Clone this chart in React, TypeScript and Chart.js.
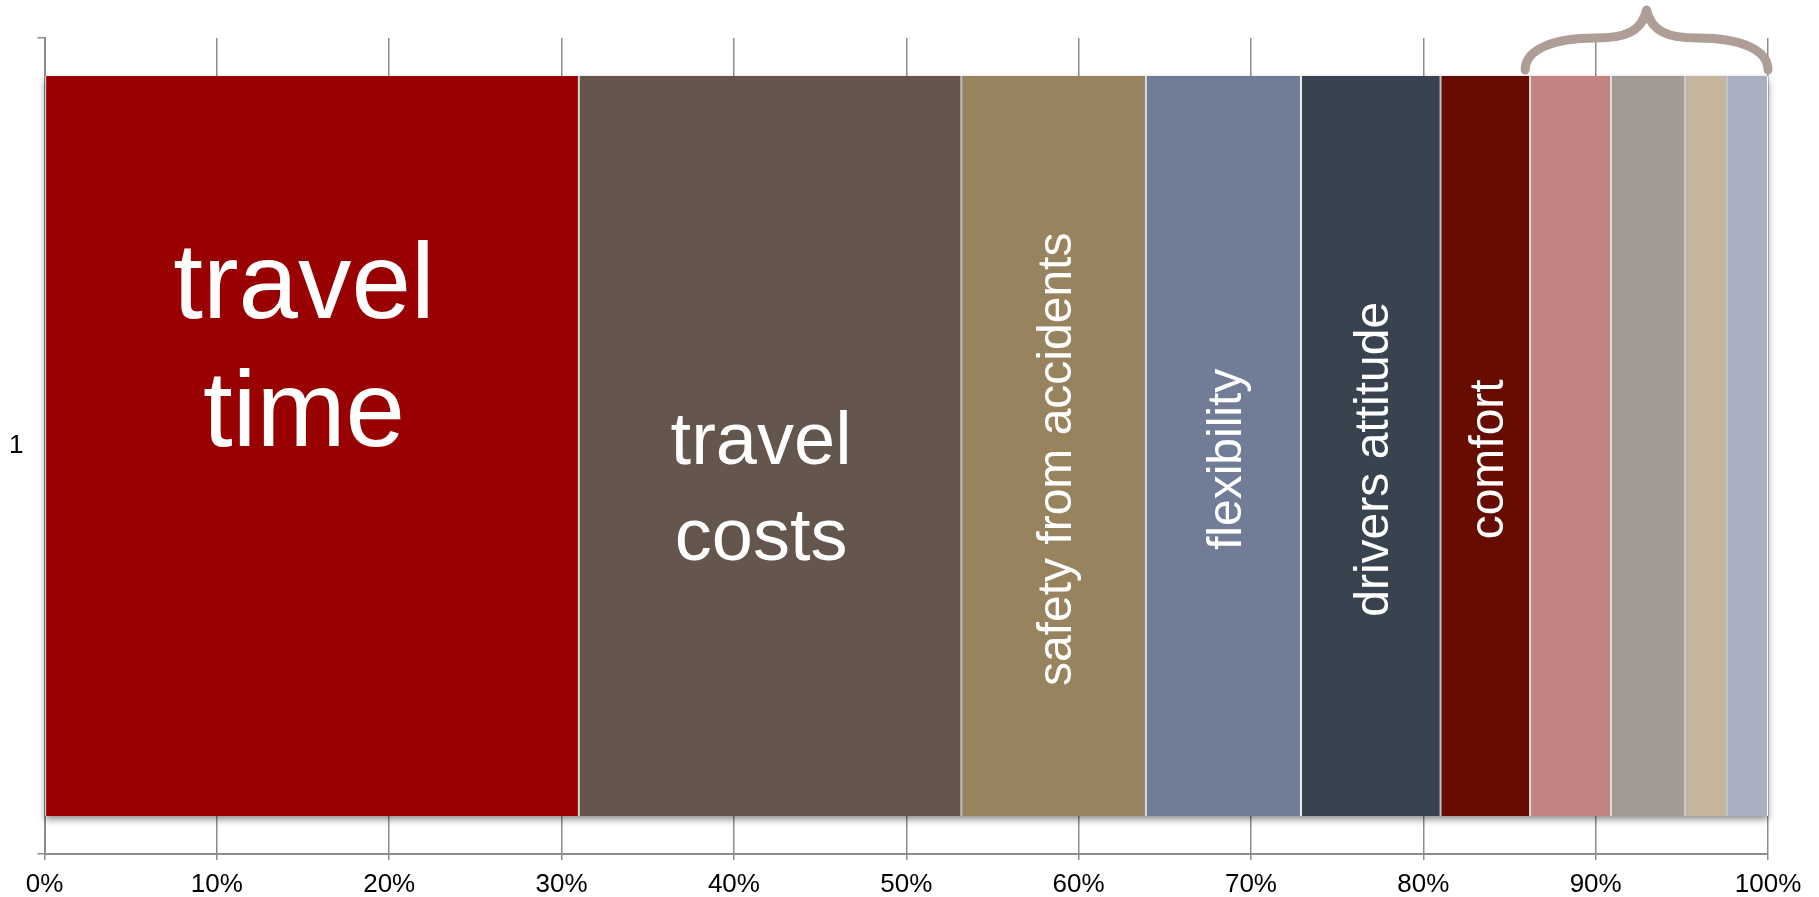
import React, { useEffect, useRef } from 'react';
import { Chart, registerables } from 'chart.js';

Chart.register(...registerables);

// ---------- data ----------
const categories = ['1'];
const factorNames = [
  'travel time',
  'travel costs',
  'safety from accidents',
  'flexibility',
  'drivers attitude',
  'comfort',
  'other factor A',
  'other factor B',
  'other factor C',
  'other factor D',
];
const factorShares = [31.0, 22.2, 10.7, 9.0, 8.1, 5.2, 4.7, 4.3, 2.4, 2.4];
const factorColors = [
  '#990000',
  '#65564d',
  '#98835f',
  '#717d96',
  '#394350',
  '#660c00',
  '#c48383',
  '#a39a94',
  '#c5b59f',
  '#a9afc3',
];
const tickValues = [0, 10, 20, 30, 40, 50, 60, 70, 80, 90, 100];
const insideLabels: string[][] = [
  ['travel', 'time'],
  ['travel', 'costs'],
  ['safety from accidents'],
  ['flexibility'],
  ['drivers attitude'],
  ['comfort'],
  [],
  [],
  [],
  [],
];
const bracedStartIndex = 6;

// ---------- styles ----------
const FONT = '"Liberation Sans", Arial, Helvetica, sans-serif';
const AXIS_GREY = '#8c8c8c';
const BRACE_COLOR = '#ae9e95';

type LabelStyle = { size: number; rotated: boolean; dx: number; baselines: number[]; centerFrac: number };
const bigStyle: LabelStyle = { size: 107, rotated: false, dx: -8, baselines: [0.327, 0.5], centerFrac: 0 };
const midStyle: LabelStyle = { size: 74, rotated: false, dx: -9, baselines: [0.524, 0.654], centerFrac: 0 };
const rotStyle: LabelStyle = { size: 48, rotated: true, dx: 0, baselines: [], centerFrac: 0.518 };
const labelStyles: LabelStyle[] = [bigStyle, midStyle, rotStyle, rotStyle, rotStyle, rotStyle, rotStyle, rotStyle, rotStyle, rotStyle];

function barBox(chart: any, i: number) {
  const el = chart.getDatasetMeta(i).data[0];
  const p = el.getProps(['x', 'y', 'base', 'height'], true);
  const left = Math.min(p.x, p.base);
  const right = Math.max(p.x, p.base);
  return { left, right, top: p.y - p.height / 2, height: p.height };
}

const shadowPlugin = {
  id: 'barShadow',
  beforeDatasetsDraw(chart: any) {
    const n = chart.data.datasets.length;
    const first = barBox(chart, 0);
    const last = barBox(chart, n - 1);
    const ctx = chart.ctx;
    ctx.save();
    ctx.shadowColor = 'rgba(0,0,0,0.45)';
    ctx.shadowBlur = 7;
    ctx.shadowOffsetY = 4;
    ctx.fillStyle = '#888';
    ctx.fillRect(first.left, first.top, last.right - first.left, first.height);
    ctx.restore();
  },
};

const segmentTextPlugin = {
  id: 'segmentText',
  afterDatasetsDraw(chart: any) {
    const ctx = chart.ctx;
    chart.data.datasets.forEach((_ds: any, i: number) => {
      const lines = insideLabels[i];
      if (!lines || !lines.length) return;
      const b = barBox(chart, i);
      const cx = (b.left + b.right) / 2;
      const st = labelStyles[i];
      ctx.save();
      ctx.fillStyle = '#ffffff';
      ctx.font = `${st.size}px ${FONT}`;
      ctx.textAlign = 'center';
      ctx.textBaseline = 'alphabetic';
      if (st.rotated) {
        const cy = b.top + b.height * st.centerFrac;
        ctx.translate(cx + st.size * 0.36, cy);
        ctx.rotate(-Math.PI / 2);
        ctx.fillText(lines[0], 0, 0);
      } else {
        lines.forEach((line, k) => {
          ctx.fillText(line, cx + st.dx, b.top + b.height * st.baselines[k]);
        });
      }
      ctx.restore();
    });
  },
};

const bracePlugin = {
  id: 'brace',
  afterDraw(chart: any) {
    const xs = chart.scales.x;
    const startVal = factorShares.slice(0, bracedStartIndex).reduce((a, b) => a + b, 0);
    const endVal = factorShares.reduce((a, b) => a + b, 0);
    const L = xs.getPixelForValue(startVal) - 5;
    const R = xs.getPixelForValue(Math.min(endVal, 100));
    const M = (L + R) / 2;
    const top = chart.chartArea.top;
    const yEnd = top + 32;
    const yMid = top;
    const yPeak = top - 28;
    const q = (R - L) / 2;
    const ctx = chart.ctx;
    ctx.save();
    ctx.strokeStyle = BRACE_COLOR;
    ctx.lineWidth = 9;
    ctx.lineCap = 'round';
    ctx.lineJoin = 'round';
    ctx.beginPath();
    ctx.moveTo(L, yEnd);
    ctx.bezierCurveTo(L, yMid + 12, L + q * 0.22, yMid, L + q * 0.58, yMid);
    ctx.bezierCurveTo(L + q * 0.82, yMid, M - 5, yMid - 6, M, yPeak);
    ctx.bezierCurveTo(M + 5, yMid - 6, R - q * 0.82, yMid, R - q * 0.58, yMid);
    ctx.bezierCurveTo(R - q * 0.22, yMid, R, yMid + 12, R, yEnd);
    ctx.stroke();
    ctx.restore();
  },
};

export default function App() {
  const canvasRef = useRef<HTMLCanvasElement | null>(null);

  useEffect(() => {
    if (!canvasRef.current) return;
    Chart.defaults.font.family = FONT;
    const datasets = factorNames.map((name, i) => ({
      label: name,
      data: [factorShares[i]],
      backgroundColor: factorColors[i],
      borderColor: '#ffffff',
      borderWidth: { left: 1, right: 1, top: 0, bottom: 0 },
      borderSkipped: false,
      barPercentage: 0.907,
      categoryPercentage: 1,
    }));
    const chart = new Chart(canvasRef.current, {
      type: 'bar',
      data: { labels: categories, datasets },
      plugins: [shadowPlugin, segmentTextPlugin, bracePlugin],
      options: {
        indexAxis: 'y',
        animation: false,
        responsive: true,
        maintainAspectRatio: false,
        devicePixelRatio: 1,
        layout: { padding: { top: 38, right: 51, left: 0, bottom: 0 } },
        plugins: {
          legend: { display: false },
          tooltip: { enabled: false },
          title: { display: false },
        },
        scales: {
          x: {
            type: 'linear',
            stacked: true,
            min: 0,
            max: 100,
            afterBuildTicks: (s: any) => {
              s.ticks = tickValues.map((v) => ({ value: v }));
            },
            afterFit: (s: any) => {
              s.height = 43;
            },
            ticks: {
              callback: (v: any) => `${v}%`,
              font: { size: 26, family: FONT },
              color: '#000000',
              padding: 9,
              maxRotation: 0,
              autoSkip: false,
            },
            grid: {
              color: AXIS_GREY,
              lineWidth: 1.5,
              tickLength: 6,
              drawOnChartArea: true,
            },
            border: { color: AXIS_GREY, width: 2 },
          },
          y: {
            type: 'category',
            stacked: true,
            afterFit: (s: any) => {
              s.width = 44.5;
            },
            ticks: {
              font: { size: 26, family: FONT },
              color: '#000000',
              padding: 14,
            },
            grid: {
              offset: true,
              drawOnChartArea: false,
              tickLength: 7,
              color: AXIS_GREY,
              lineWidth: 1.5,
            },
            border: { color: AXIS_GREY, width: 2 },
          },
        },
      } as any,
    });
    return () => chart.destroy();
  }, []);

  return (
    <div style={{ position: 'fixed', left: 0, top: 0, width: '1819px', height: '897px', background: '#ffffff' }}>
      <canvas ref={canvasRef} />
    </div>
  );
}
